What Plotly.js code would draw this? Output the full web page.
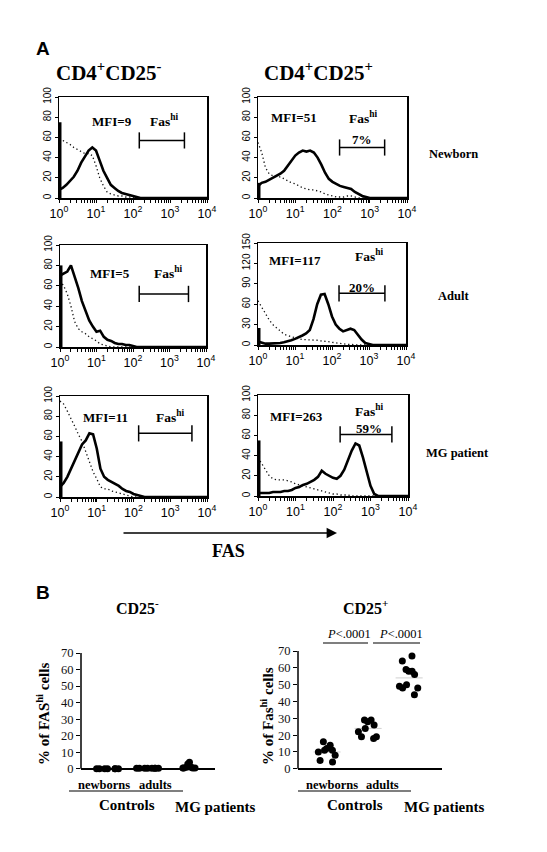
<!DOCTYPE html>
<html><head><meta charset="utf-8">
<script src="https://cdn.plot.ly/plotly-3.0.1.min.js"></script>
<style>html,body{margin:0;padding:0;background:#fff}</style>
</head><body><div id="chart" style="width:547px;height:852px"></div>
<script>
// ---- DATA ----
// FAS fluorescence channel, log10 scale (10^0 .. 10^4)
const fasLogChannel = [0,0.1,0.2,0.3,0.4,0.5,0.6,0.7,0.8,0.9,1.0,1.1,1.2,1.3,1.4,1.5,1.6,1.7,1.8,1.9,2.0,2.1,2.2,2.3,2.4,2.5,2.6,2.7,2.8,2.9,3.0,3.1,3.2,4.0];
// Newborn
const nbNegFas = [8,10,13,17,21,27,35,41,47,50,47,37,27,20,13,10,7,5,4,3,2,1,0,0,0,0,0,0,0,0,0,0,0,0];
const nbNegIso = [58,57,55,53,50,48,46,44,44,42,32,20,12,6,4,3,2,2,1,1,0.5,0,0,0,0,0,0,0,0,0,0,0,0,0];
const nbPosFas = [12,15,16,18,20,22,24,27,32,38,42,45,47,46,47,45,40,33,25,19,16,14,12,11,10,9,6,4,2,1,0,0,0,0];
const nbPosIso = [55,45,30,24,22,21,21,19,17,15,14,12,10,9,8,8,7,6,4,3,2,1,1,1,2,2,1,0,0,0,0,0,0,0];
// Adult
const adNegFas = [70,72,74,80,70,58,45,35,26,20,15,16,10,7,6,4,3,3,2,2,1,0,0,0,0,0,0,0,0,0,0,0,0,0];
const adNegIso = [65,60,52,40,25,18,15,13,10,8,6,3,2,1,0,0,0,0,0,0,0,0,0,0,0,0,0,0,0,0,0,0,0,0];
const adPosFas = [5,3,2,2,2,3,3,4,5,7,9,11,14,17,22,38,60,74,75,60,42,30,24,20,22,24,22,15,8,3,1,0,0,0];
const adPosIso = [65,55,45,37,30,25,20,16,14,12,10,9,8,8,8,7,7,6,6,5,4,3,2,2,1,1,0,0,0,0,0,0,0,0];
// MG patient
const mgNegFas = [10,14,20,28,36,44,52,56,63,62,48,28,20,17,15,13,11,8,6,5,3,2,1,0,0,0,0,0,0,0,0,0,0,0];
const mgNegIso = [95,92,85,78,70,62,55,45,35,25,18,10,8,8,6,5,4,3,2,1,0,0,0,0,0,0,0,0,0,0,0,0,0,0];
const mgPosFas = [3,3,3,3,4,4,4,5,5,6,8,9,11,12,14,16,19,25,22,20,18,17,20,26,35,45,52,50,38,24,10,2,0,0];
const mgPosIso = [38,32,25,20,17,16,16,16,15,14,12,11,10,9,8,7,6,5,4,3,2,2,1,1,1,0,0,0,0,0,0,0,0,0];
// events piled in the first channel
const firstChannelPeak = [75,15,80,25,55,55];
const mfiLabels = ['MFI=9','MFI=51','MFI=5','MFI=117','MFI=11','MFI=263'];
const fasHiPercent = ['', '7%', '', '20%', '', '59%'];
const rowLabels = ['Newborn','Adult','MG patient'];
// Panel B : % of FAS-hi cells
const groupNames = ['newborns','adults','MG patients'];
const cd25NegNewborns = [0,0,0,0,0,0,0];
const cd25NegAdults = [0.3,0.3,0.3,0.3,0.3,0.3,0.3,0.3];
const cd25NegMG = [3,4,0.5,0.5,1,1,0.5,0.5];
const cd25PosNewborns = [16,14,12,11,11,10,8,5,4];
const cd25PosAdults = [29,29,28,26,24,22,19,19,18];
const cd25PosMG = [67,64,59,58,58,56,50,49,48,48,44];
const cd25PosMeans = [10,24,54];
const pValues = ['P<.0001','P<.0001'];

// ---- LAYOUT ----
const W=547,H=852;
const px=x=>x/W, py=y=>1-y/H;
const SERIF='Liberation Serif, Times New Roman, serif';
const SANS='Liberation Sans, Arial, sans-serif';
const layout={width:W,height:H,margin:{l:0,r:0,t:0,b:0},showlegend:false,
  paper_bgcolor:'white',plot_bgcolor:'rgba(0,0,0,0)',boxmode:'overlay',
  annotations:[],shapes:[]};
const traces=[];

const histFrames=[[59,207,97,198],[258,407,97,198],[60,206,245,347],[258,406,243,345],[60,207,396,497],[258,408,395,496]];
const histFas=[nbNegFas,nbPosFas,adNegFas,adPosFas,mgNegFas,mgPosFas];
const histIso=[nbNegIso,nbPosIso,adNegIso,adPosIso,mgNegIso,mgPosIso];
const yMax=[100,100,100,150,100,100];
// text placement (data coords)
const mfiPos=[[1.42,76],[0.97,80],[1.37,72],[1.0,124],[1.24,79],[1.03,79]];
const fasHiPos=[[2.83,77],[2.81,80],[2.97,73],[3.0,131],[2.98,80],[2.97,85]];
const pctPos=[null,[2.8,58],null,[2.8,85],null,[2.95,67]];
const gate=[[2.17,3.39,57],[2.19,3.4,50],[2.17,3.52,52],[2.19,3.43,76],[2.14,3.59,63],[2.19,3.57,61]];

const xt=[],xl=[];
for(let d=0;d<4;d++){for(let k=1;k<10;k++){xt.push(d+Math.log10(k));xl.push(k===1?'10<sup>'+d+'</sup>':'');}}
xt.push(4);xl.push('10<sup>4</sup>');

for(let i=0;i<6;i++){
  const n=i+1, s=n===1?'':String(n);
  const f=histFrames[i];
  layout['xaxis'+s]={domain:[px(f[0]),px(f[1])],range:[0,4],anchor:'y'+s,
    showline:true,mirror:true,linecolor:'black',linewidth:1.5,showgrid:false,zeroline:false,
    ticks:'outside',ticklen:3,tickwidth:1,tickcolor:'black',tickvals:xt,ticktext:xl,
    tickfont:{family:SANS,size:12.5,color:'black'}};
  const yt=[];for(let v=0;v<=yMax[i];v+=yMax[i]/5)yt.push(v);
  layout['yaxis'+s]={domain:[py(f[3]),py(f[2])],range:[0,yMax[i]],anchor:'x'+s,
    showline:true,mirror:true,linecolor:'black',linewidth:1.5,showgrid:false,zeroline:false,
    ticks:'outside',ticklen:3,tickcolor:'black',tickvals:yt,tickangle:-90,
    tickfont:{family:SANS,size:10,color:'black'}};
  traces.push({x:fasLogChannel,y:histIso[i],xaxis:'x'+s,yaxis:'y'+s,mode:'lines',
    line:{color:'#111',width:1.3,dash:'1.3px,2.7px'},hoverinfo:'skip'});
  traces.push({x:fasLogChannel,y:histFas[i],xaxis:'x'+s,yaxis:'y'+s,mode:'lines',
    line:{color:'black',width:2.6},hoverinfo:'skip'});
  traces.push({x:[0.02,0.02],y:[0,firstChannelPeak[i]],xaxis:'x'+s,yaxis:'y'+s,mode:'lines',
    line:{color:'black',width:3.5},hoverinfo:'skip'});
  const tf={family:SERIF,size:13,color:'black'};
  layout.annotations.push({xref:'x'+s,yref:'y'+s,x:mfiPos[i][0],y:mfiPos[i][1],text:'<b>'+mfiLabels[i]+'</b>',showarrow:false,font:tf});
  layout.annotations.push({xref:'x'+s,yref:'y'+s,x:fasHiPos[i][0],y:fasHiPos[i][1],text:'<b>Fas<sup>hi</sup></b>',showarrow:false,font:{family:SERIF,size:13.5,color:'black'}});
  if(pctPos[i]) layout.annotations.push({xref:'x'+s,yref:'y'+s,x:pctPos[i][0],y:pctPos[i][1],text:'<b>'+fasHiPercent[i]+'</b>',showarrow:false,font:tf});
  const g=gate[i], tk=yMax[i]*0.08;
  layout.shapes.push({type:'line',xref:'x'+s,yref:'y'+s,x0:g[0],x1:g[1],y0:g[2],y1:g[2],line:{color:'black',width:1.5}});
  layout.shapes.push({type:'line',xref:'x'+s,yref:'y'+s,x0:g[0],x1:g[0],y0:g[2]-tk,y1:g[2]+tk,line:{color:'black',width:1.5}});
  layout.shapes.push({type:'line',xref:'x'+s,yref:'y'+s,x0:g[1],x1:g[1],y0:g[2]-tk,y1:g[2]+tk,line:{color:'black',width:1.5}});
}

// Headings panel A
const A=(t,x,y,size,fam,xa,extra)=>layout.annotations.push(Object.assign({xref:'paper',yref:'paper',x:px(x),y:py(y),text:t,showarrow:false,xanchor:xa||'left',yanchor:'middle',font:{family:fam,size:size,color:'black'}},extra||{}));
A('<b>A</b>',34,48,19,SANS);
A('<b>CD4<sup>+</sup>CD25<sup>-</sup></b>',54,71,21,SERIF);
A('<b>CD4<sup>+</sup>CD25<sup>+</sup></b>',262,71,21,SERIF);
A('<b>'+rowLabels[0]+'</b>',427,154,12.5,SERIF);
A('<b>'+rowLabels[1]+'</b>',436,296,12.5,SERIF);
A('<b>'+rowLabels[2]+'</b>',424,453,12.5,SERIF);
layout.annotations.push({xref:'paper',yref:'paper',axref:'paper',ayref:'paper',x:px(337),y:py(533),ax:px(122),ay:py(533),
  text:'',showarrow:true,arrowhead:2,arrowsize:1.3,arrowwidth:1.6,arrowcolor:'black',standoff:0,startstandoff:0});
A('<b>FAS</b>',228,551,18,SERIF,'center');

// ---- Panel B ----
A('<b>B</b>',34,592,19,SANS);
A('<b>CD25<sup>-</sup></b>',137,607,16,SERIF,'center');
A('<b>CD25<sup>+</sup></b>',365,607,16,SERIF,'center');

const sc=[{n:7,dom:[81,215],yd:[653,773],xr:[-0.675,2.675],bw:0.75,data:[cd25NegNewborns,cd25NegAdults,cd25NegMG],title:'% of FAS<sup>hi</sup> cells',tx:43,ty:714},
          {n:8,dom:[298,442],yd:[651,773],xr:[-0.707,2.8],bw:0.62,data:[cd25PosNewborns,cd25PosAdults,cd25PosMG],title:'% of Fas<sup>hi</sup> cells',tx:267,ty:716}];
sc.forEach(p=>{
  const s=String(p.n);
  layout['xaxis'+s]={domain:[px(p.dom[0]),px(p.dom[1])],range:p.xr,anchor:'y'+s,showline:false,showticklabels:false,ticks:'',showgrid:false,zeroline:false};
  layout['yaxis'+s]={domain:[py(p.yd[1]),py(p.yd[0])],range:[-2.5,70],anchor:'x'+s,showline:false,showgrid:false,
    zeroline:true,zerolinecolor:'black',zerolinewidth:1.5,ticks:'outside',ticklen:4,tickcolor:'black',
    tickvals:[0,10,20,30,40,50,60,70],tickfont:{family:SERIF,size:12.5,color:'#111'}};
  layout.shapes.push({type:'line',xref:'x'+s+' domain',yref:'y'+s,x0:0,x1:0,y0:0,y1:70,line:{color:'black',width:1.5}});
  p.data.forEach((vals,g)=>{
    traces.push({type:'box',y:vals,x0:g,xaxis:'x'+s,yaxis:'y'+s,name:groupNames[g],boxpoints:'all',jitter:0.9,pointpos:0,
      width:p.bw,line:{width:0,color:'rgba(0,0,0,0)'},fillcolor:'rgba(0,0,0,0)',marker:{color:'black',size:7},hoverinfo:'y'});
  });
  A('<b>'+p.title+'</b>',p.tx,p.ty,15,SERIF,'center',{textangle:-90});
});
cd25PosMeans.forEach((m,g)=>layout.shapes.push({type:'line',xref:'x8',yref:'y8',x0:g-0.33,x1:g+0.33,y0:m,y1:m,line:{color:'#d0d0d0',width:1},layer:'below'}));

// group labels
A('<b>newborns</b>',76,785,12.5,SERIF); A('<b>adults</b>',137,785,12.5,SERIF);
A('<b>Controls</b>',97,805,15,SERIF); A('<b>MG patients</b>',173,807,15,SERIF);
A('<b>newborns</b>',304,785,12.5,SERIF); A('<b>adults</b>',364,785,12.5,SERIF);
A('<b>Controls</b>',325,805,15,SERIF); A('<b>MG patients</b>',402,807,15,SERIF);
const L=(x0,x1,y)=>layout.shapes.push({type:'line',xref:'paper',yref:'paper',x0:px(x0),x1:px(x1),y0:py(y),y1:py(y),line:{color:'black',width:1.2}});
L(69,183,791); L(298,411,791);
A('<i>P</i>&lt;'+pValues[0].slice(2),325,634,12.5,SERIF);
A('<i>P</i>&lt;'+pValues[1].slice(2),377,634,12.5,SERIF);
L(323,368,643); L(373,420,643);

Plotly.newPlot('chart',traces,layout,{staticPlot:true});
</script></body></html>
